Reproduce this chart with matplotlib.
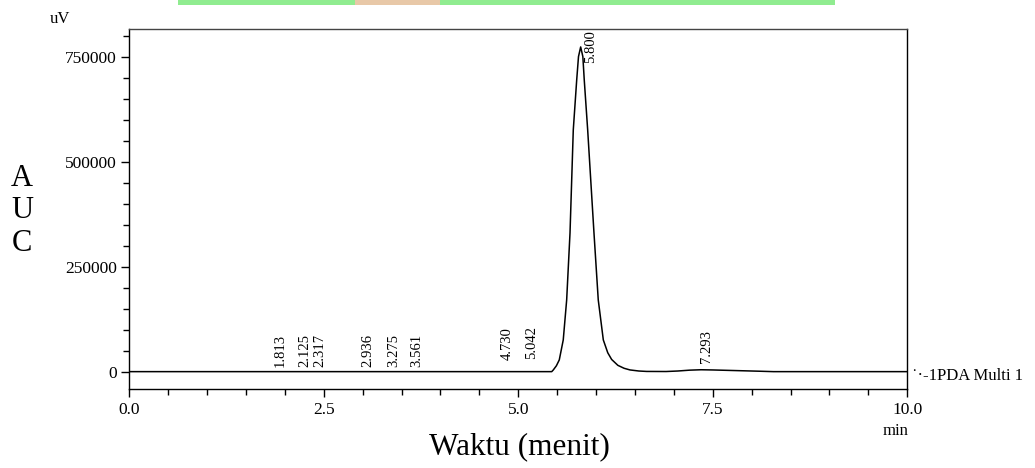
import matplotlib
matplotlib.use("Agg")
import matplotlib.pyplot as plt
from matplotlib.patches import Rectangle
from matplotlib.ticker import MultipleLocator

plt.rcParams['font.family'] = ['Liberation Serif', 'DejaVu Serif']

# Chromatogram trace (time in min, signal in uV)
time_min = [0.0, 2.0, 4.0, 5.0, 5.43, 5.45, 5.49, 5.527, 5.578, 5.622, 5.665,
            5.707, 5.751, 5.774, 5.802, 5.830, 5.848, 5.892, 5.973, 6.028,
            6.093, 6.15, 6.20, 6.28, 6.36, 6.436, 6.55, 6.65, 6.90, 7.05,
            7.20, 7.35, 7.50, 7.70, 7.90, 8.10, 8.28, 10.0]
signal_uv = [0, 0, 0, 0, 0, 4000, 14000, 27900, 75500, 170700, 330200,
             575500, 694500, 750000, 773000, 750000, 694500, 575500, 330200,
             170700, 75500, 45000, 29000, 15000, 8000, 4050, 1500, 500, 300,
             1500, 3500, 4500, 4000, 3000, 2000, 1000, 0, 0]

# Peak table
peak_rt = [1.813, 2.125, 2.317, 2.936, 3.275, 3.561, 4.730, 5.042, 5.800, 7.293]
peak_height = [0, 0, 0, 0, 0, 0, 16000, 18000, 773000, 8000]
peak_labels = ["1.813", "2.125", "2.317", "2.936", "3.275", "3.561",
               "4.730", "5.042", "5.800", "7.293"]

y_ticks = [0, 250000, 500000, 750000]
x_ticks = [0.0, 2.5, 5.0, 7.5, 10.0]

fig = plt.figure(figsize=(10.35, 4.68), dpi=100)
ax = fig.add_axes([0.1249, 0.1682, 0.7517, 0.7692])

ax.plot(time_min, signal_uv, color='black', lw=1.1)

for rt, h, lab in zip(peak_rt, peak_height, peak_labels):
    dy = -16 if h > 100000 else 5
    ax.annotate(lab, xy=(rt, h), xytext=(10, dy), textcoords='offset pixels',
                rotation=90, ha='center', va='bottom', fontsize=10.5)

ax.set_xlim(0, 10)
ax.set_ylim(-42000, 815000)
ax.set_xticks(x_ticks)
ax.set_xticklabels([f"{t:.1f}" for t in x_ticks])
ax.set_yticks(y_ticks)
ax.set_yticklabels([str(v) for v in y_ticks])
ax.xaxis.set_minor_locator(MultipleLocator(0.5))
ax.yaxis.set_minor_locator(MultipleLocator(50000))
ax.tick_params(which='major', length=6, width=1, labelsize=12.5, pad=3)
ax.tick_params(which='minor', length=4, width=1)
for s in ax.spines.values():
    s.set_linewidth(1.0)
ax.spines['top'].set_color('#444444')

# unit labels
fig.text(50 / 1035, 1 - 19 / 468, "uV", fontsize=12, va='center', ha='left')
fig.text(896 / 1035, 1 - 431 / 468, "min", fontsize=12, va='center', ha='center')
fig.text(912 / 1035, 1 - 376 / 468, "˙·-1PDA Multi 1", fontsize=12,
         va='center', ha='left')

# axis titles
fig.text(22 / 1035, 1 - 211 / 468, "A\nU\nC", fontsize=22, ha='center',
         va='center', linespacing=1.18)
fig.text(519 / 1035, 1 - 447 / 468, "Waktu (menit)", fontsize=22.5,
         ha='center', va='center')

# strip of the page header visible at the top edge
fig.patches.append(Rectangle((178 / 1035, 1 - 5 / 468), 657 / 1035, 5 / 468,
                             transform=fig.transFigure, color='#90ec90', lw=0))
fig.patches.append(Rectangle((355 / 1035, 1 - 5 / 468), 85 / 1035, 5 / 468,
                             transform=fig.transFigure, color='#e8c8a8', lw=0))

fig.savefig("out.png", dpi=100)
